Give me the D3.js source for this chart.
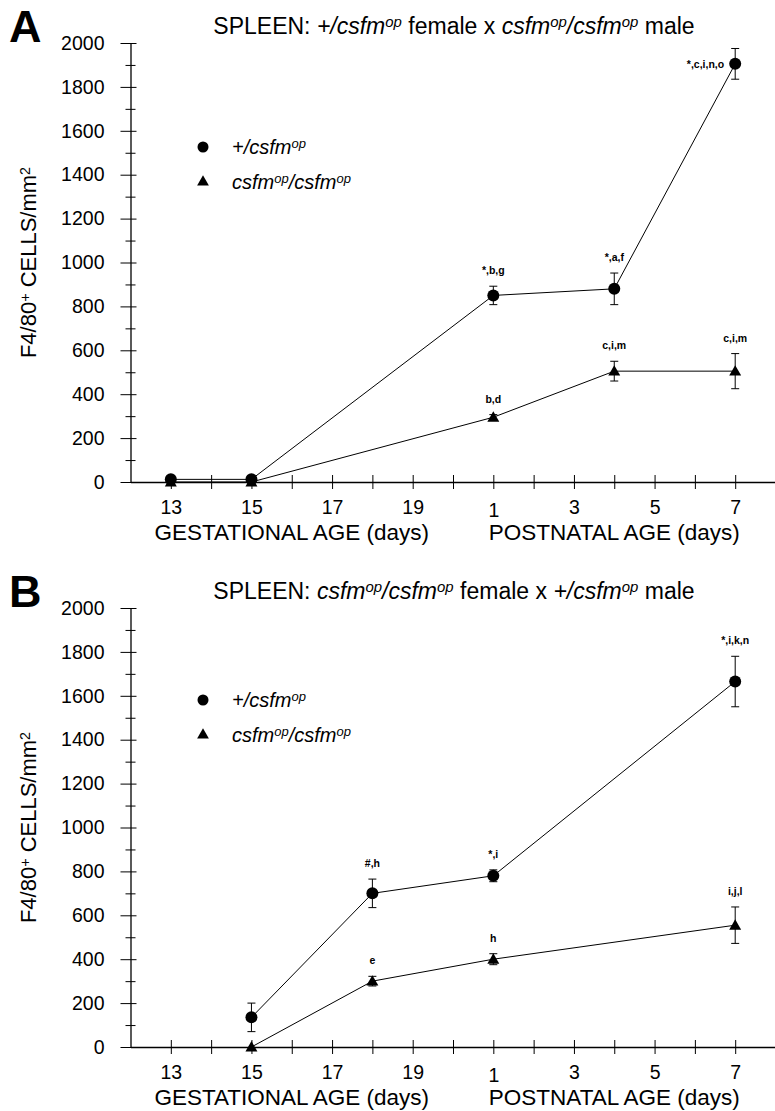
<!DOCTYPE html>
<html>
<head>
    <title>Spleen F4/80 cells</title>
    <script src="https://d3js.org/d3.v7.min.js"></script>
    <style>
        body { margin: 0; background: #fff; }
        text { font-family: "Liberation Sans", Arial, sans-serif; fill: #000; }
        .tick text { font-size: 19.5px; }
        .note { font-size: 10.5px; font-weight: bold; }
    </style>
</head>
<body>
    <div id="chart"></div>
    <script>
        // x positions are slots: 0..7 = gestational day 13..20, 8..14 = postnatal day 1..7
        const xTickLabels = ["13", "", "15", "", "17", "", "19", "", "1", "", "3", "", "5", "", "7"];
        const yTicks = [0, 200, 400, 600, 800, 1000, 1200, 1400, 1600, 1800, 2000];

        // panel A: +/csfm female x csfm/csfm male
        const aSlots = [0, 2, 8, 11, 14];
        const aHet = [12, 12, 850, 880, 1905];
        const aHetErr = [0, 0, 42, 72, 70];
        const aHetNotes = ["", "", "*,b,g", "*,a,f", "*,c,i,n,o"];
        const aHom = [0, 0, 295, 505, 505];
        const aHomErr = [0, 0, 12, 45, 80];
        const aHomNotes = ["", "", "b,d", "c,i,m", "c,i,m"];

        // panel B: csfm/csfm female x +/csfm male
        const bSlots = [2, 5, 8, 14];
        const bHet = [135, 700, 780, 1665];
        const bHetErr = [65, 65, 27, 115];
        const bHetNotes = ["", "#,h", "*,i", "*,i,k,n"];
        const bHom = [0, 300, 400, 555];
        const bHomErr = [0, 22, 25, 83];
        const bHomNotes = ["", "e", "h", "i,j,l"];

        const W = 775, H = 1111;
        const svg = d3.select("#chart").append("svg")
            .attr("width", W).attr("height", H);

        const x = d3.scaleLinear().domain([-1, 15]).range([130.5, 775.5]);

        function mk(slots, vals, errs, notes) {
            return slots.map((s, i) => ({slot: s, v: vals[i], e: errs[i], note: notes[i]}));
        }

        // text with superscripts, parts = [[text, isSup, isItalic], ...]
        function richText(sel, parts, size) {
            parts.forEach(([t, sup, ital]) => {
                sel.append("tspan")
                    .attr("font-size", sup ? size * 0.65 : size)
                    .attr("font-style", ital ? "italic" : "normal")
                    .attr("baseline-shift", sup ? "45%" : "0%")
                    .text(t);
            });
        }

        const het = [["+/csfm", 0, 1], ["op", 1, 1]];
        const hom = [["csfm", 0, 1], ["op", 1, 1], ["/csfm", 0, 1], ["op", 1, 1]];

        function drawPanel(top, letter, titleParts, hetData, homData, leftNoteLast, legendY) {
            const g = svg.append("g").attr("transform", `translate(0,${top})`);
            const y = d3.scaleLinear().domain([0, 2000]).range([482, 43]);

            // panel letter
            g.append("text").attr("x", 9).attr("y", 42)
                .style("font-size", "45px").style("font-weight", "bold").text(letter);

            // title
            const title = g.append("text").attr("x", 454).attr("y", 34)
                .attr("text-anchor", "middle").style("font-size", "23px");
            richText(title, titleParts, 23);

            // y axis
            const yAxis = g.append("g").attr("transform", `translate(${x(-1)},0)`)
                .call(d3.axisLeft(y).tickValues(yTicks).tickFormat(d3.format("d"))
                    .tickSizeOuter(0).tickPadding(20));
            yAxis.selectAll(".tick line").attr("x1", -10).attr("x2", 6);
            yAxis.select(".domain").attr("stroke-width", 1.3);
            const yMinor = g.append("g").attr("transform", `translate(${x(-1)},0)`)
                .call(d3.axisLeft(y).tickValues(d3.range(100, 2000, 200)).tickFormat("").tickSizeOuter(0));
            yMinor.select(".domain").remove();
            yMinor.selectAll(".tick line").attr("x1", -5).attr("x2", 5);

            // x axis
            const xAxis = g.append("g").attr("transform", `translate(0,${y(0)})`)
                .call(d3.axisBottom(x).tickValues(d3.range(0, 15))
                    .tickFormat(i => xTickLabels[i]).tickSizeOuter(0).tickPadding(12));
            xAxis.selectAll(".tick line").attr("y1", -7).attr("y2", 7);
            xAxis.select(".domain").attr("stroke-width", 1.3);
            xAxis.selectAll(".tick text").attr("dy", i => i === 8 ? "0.88em" : "0.71em");

            g.append("text").attr("x", (x(0) + x(6)) / 2).attr("y", 540)
                .attr("text-anchor", "middle").style("font-size", "22.5px")
                .text("GESTATIONAL AGE (days)");
            g.append("text").attr("x", (x(8) + x(14)) / 2).attr("y", 540)
                .attr("text-anchor", "middle").style("font-size", "22.5px")
                .text("POSTNATAL AGE (days)");

            // y title
            const yt = g.append("text")
                .attr("transform", `translate(36,${(y(0) + y(2000)) / 2}) rotate(-90)`)
                .attr("text-anchor", "middle").style("font-size", "22px");
            richText(yt, [["F4/80", 0, 0], ["+", 1, 0], [" CELLS/mm", 0, 0], ["2", 1, 0]], 22);

            // legend
            const legend = g.append("g").attr("transform", `translate(0,${legendY})`);
            legend.append("circle").attr("cx", 203).attr("cy", 0).attr("r", 5.5);
            legend.append("path")
                .attr("transform", "translate(203,35)")
                .attr("d", d3.symbol(d3.symbolTriangle, 60)());
            richText(legend.append("text").attr("x", 232).attr("y", 7).style("font-size", "20px"), het, 20);
            richText(legend.append("text").attr("x", 232).attr("y", 42).style("font-size", "20px"), hom, 20);

            const line = d3.line().x(d => x(d.slot)).y(d => y(d.v));

            [[homData, "tri"], [hetData, "dot"]].forEach(([data, shape]) => {
                g.append("path").datum(data).attr("d", line)
                    .attr("fill", "none").attr("stroke", "#000").attr("stroke-width", 1);

                const pts = g.selectAll(null).data(data).enter().append("g")
                    .attr("transform", d => `translate(${x(d.slot)},0)`);

                pts.filter(d => d.e > 0).each(function (d) {
                    const p = d3.select(this);
                    p.append("line").attr("y1", y(d.v + d.e)).attr("y2", y(d.v - d.e))
                        .attr("stroke", "#000");
                    [d.v + d.e, d.v - d.e].forEach(v => p.append("line")
                        .attr("x1", -4).attr("x2", 4).attr("y1", y(v)).attr("y2", y(v))
                        .attr("stroke", "#000"));
                });

                if (shape === "dot") {
                    pts.append("circle").attr("cy", d => y(d.v)).attr("r", 6);
                } else {
                    pts.append("path")
                        .attr("transform", d => `translate(0,${y(d.v) + 1})`)
                        .attr("d", d3.symbol(d3.symbolTriangle, 62)());
                }

                pts.filter(d => d.note).append("text").attr("class", "note")
                    .each(function (d) {
                        const t = d3.select(this);
                        const last = d === data[data.length - 1];
                        if (shape === "dot" && last && leftNoteLast) {
                            t.attr("x", -11).attr("y", y(d.v) + 4).attr("text-anchor", "end");
                        } else {
                            t.attr("x", 0).attr("y", y(d.v + d.e) - 12).attr("text-anchor", "middle");
                        }
                    })
                    .text(d => d.note);
            });
        }

        drawPanel(0, "A",
            [["SPLEEN: ", 0, 0], ["+/csfm", 0, 1], ["op", 1, 1], [" female x ", 0, 0],
             ["csfm", 0, 1], ["op", 1, 1], ["/csfm", 0, 1], ["op", 1, 1], [" male", 0, 0]],
            mk(aSlots, aHet, aHetErr, aHetNotes), mk(aSlots, aHom, aHomErr, aHomNotes), true, 147);

        drawPanel(565, "B",
            [["SPLEEN: ", 0, 0], ["csfm", 0, 1], ["op", 1, 1], ["/csfm", 0, 1], ["op", 1, 1],
             [" female x ", 0, 0], ["+/csfm", 0, 1], ["op", 1, 1], [" male", 0, 0]],
            mk(bSlots, bHet, bHetErr, bHetNotes), mk(bSlots, bHom, bHomErr, bHomNotes), false, 135);
    </script>
</body>
</html>
